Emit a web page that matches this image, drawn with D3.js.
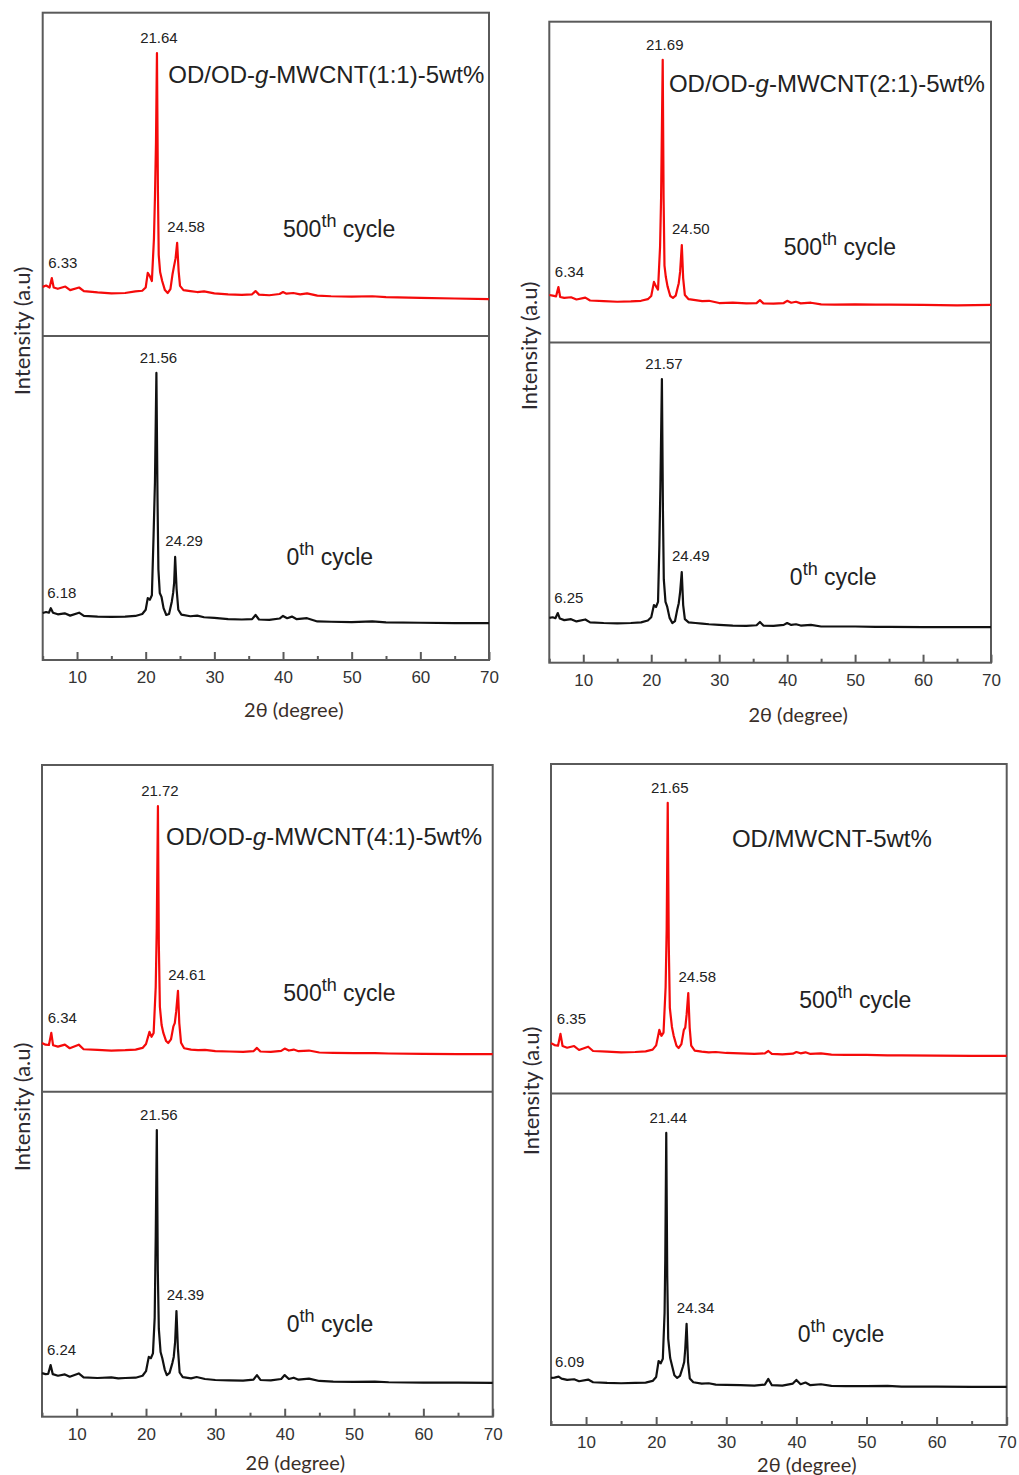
<!DOCTYPE html>
<html>
<head>
<meta charset="utf-8">
<script src="https://cdn.jsdelivr.net/npm/d3@7"></script>
<style>
  body { margin: 0; background: #fff; }
  svg { display: block; }
</style>
</head>
<body>
<div id="chart"></div>
<script>
// Sample names (one per panel)
const sampleNames = [
  "OD/OD-g-MWCNT(1:1)-5wt%",
  "OD/OD-g-MWCNT(2:1)-5wt%",
  "OD/OD-g-MWCNT(4:1)-5wt%",
  "OD/MWCNT-5wt%"
];
const cycles = ["500", "0"]; // top half, bottom half

// x axis ticks
const majorTicks = [10, 20, 30, 40, 50, 60, 70];
const minorTicks = [5, 15, 25, 35, 45, 55, 65];

// labelled peak positions (2theta)
const peaks1_500 = [6.33, 21.64, 24.58];
const peaks1_0   = [6.18, 21.56, 24.29];
const peaks2_500 = [6.34, 21.69, 24.50];
const peaks2_0   = [6.25, 21.57, 24.49];
const peaks3_500 = [6.34, 21.72, 24.61];
const peaks3_0   = [6.24, 21.56, 24.39];
const peaks4_500 = [6.35, 21.65, 24.58];
const peaks4_0   = [6.09, 21.44, 24.34];

// XRD patterns [2theta, intensity (a.u.)]
const xrd1_500 = [[5,15.2],[5.5,15.6],[6.0,15.0],[6.33,17.9],[6.6,15.0],[7.2,14.6],[8.3,15.3],[9.0,14.2],[10.3,15.0],[11,13.9],[13,13.5],[15,13.2],[17,13.3],[18.5,13.8],[19.5,14.0],[20.0,15.0],[20.3,19.5],[20.6,18.5],[20.9,17.0],[21.2,30],[21.35,43],[21.5,60],[21.64,87.5],[21.78,45],[21.9,25],[22.1,19.8],[22.4,17],[22.8,14.2],[23.2,13.3],[23.6,14.5],[23.9,19],[24.1,21.3],[24.35,24],[24.58,28.8],[24.8,20],[25.0,15.5],[25.5,14.2],[26.5,13.9],[27.5,13.6],[28.5,13.8],[30,13.2],[32,12.9],[34,12.7],[35.5,12.9],[36,13.9],[36.5,12.8],[38,12.6],[39.5,13],[40,13.6],[40.5,13.1],[41.5,13.3],[42.5,12.9],[43.5,13.2],[45,12.5],[47,12.3],[50,12.2],[53,12.3],[55,12],[60,11.8],[65,11.6],[70,11.4]];
const xrd1_0 = [[5,14.5],[5.5,14.8],[5.9,14.6],[6.18,16.0],[6.5,14.6],[7.2,14.1],[8.2,14.4],[9.0,13.7],[10.3,14.6],[11,13.6],[13,13.4],[15,13.3],[17,13.4],[18.5,13.6],[19.5,14.2],[20.0,15.5],[20.3,19.1],[20.6,18.6],[20.9,20],[21.15,38.6],[21.35,55],[21.56,88.6],[21.72,50],[21.85,28],[22.05,20.7],[22.3,19.5],[22.6,16],[23.0,13.9],[23.4,14.2],[23.8,18],[24.0,20.7],[24.15,24],[24.29,31.8],[24.5,22],[24.75,15.5],[25.2,14],[26.5,13.5],[27.5,13.7],[28.5,13.2],[30,13],[32,12.6],[34,12.5],[35.5,12.6],[36,13.9],[36.5,12.5],[38,12.4],[39.5,12.8],[40,13.6],[40.6,12.9],[41.3,13.4],[42,12.6],[43.5,12.9],[45,11.9],[47,11.8],[50,11.7],[53,11.9],[55,11.6],[60,11.5],[65,11.4],[70,11.4]];
const xrd2_500 = [[5,14.8],[5.5,14.6],[6.0,14.4],[6.34,17.3],[6.6,14.2],[7.2,13.9],[8.2,14.1],[9.0,13.4],[10.3,14.0],[11,13.1],[13,12.9],[15,12.7],[17,12.8],[18.5,13.0],[19.5,13.5],[20.0,14.5],[20.4,18.9],[20.7,17.5],[21.0,16.5],[21.3,29.8],[21.45,45],[21.69,88.1],[21.82,45],[21.95,24],[22.15,20.4],[22.4,17.5],[22.8,14.5],[23.2,13.9],[23.6,14.6],[23.9,17.2],[24.05,18.5],[24.25,22],[24.50,30.4],[24.7,20],[24.95,14.8],[25.5,13.5],[26.5,13.2],[27.5,12.9],[28.5,13],[30,12.3],[32,12.4],[34,12.2],[35.5,12.3],[36,13.2],[36.5,12.2],[38,12.1],[39.5,12.3],[40,13.0],[40.6,12.4],[41.3,12.7],[42,12.2],[43.5,12.4],[45,11.9],[47,11.8],[50,11.9],[53,11.8],[55,11.8],[60,11.7],[65,11.6],[70,11.7]];
const xrd2_0 = [[5,14.0],[5.5,14.2],[5.9,13.9],[6.25,15.5],[6.55,13.8],[7.2,13.3],[8.2,13.6],[9.0,12.9],[10.3,13.5],[11,12.6],[13,12.4],[15,12.3],[17,12.4],[18.5,12.6],[19.5,13.2],[20.0,14.2],[20.4,18.0],[20.7,17.4],[21.0,19],[21.2,36.8],[21.35,55],[21.57,88.6],[21.72,48],[21.85,26],[22.1,19.0],[22.35,17.5],[22.7,14],[23.1,12.4],[23.5,13],[23.85,16.8],[24.05,18.6],[24.25,22],[24.49,28.3],[24.7,18],[24.95,13.6],[25.5,12.6],[26.5,12.4],[27.5,12.2],[28.5,12.0],[30,11.8],[32,11.6],[34,11.5],[35.5,11.7],[36,12.7],[36.5,11.6],[38,11.5],[39.5,11.8],[40,12.4],[40.6,11.8],[41.3,12.0],[42,11.6],[43.5,11.8],[45,11.3],[47,11.3],[50,11.3],[53,11.2],[55,11.2],[60,11.1],[65,11.1],[70,11.1]];
const xrd3_500 = [[5,14.9],[5.5,14.4],[6.0,14.3],[6.34,18.0],[6.6,14.2],[7.3,13.8],[8.3,14.4],[9.0,13.3],[10.3,14.4],[11,13.0],[13,12.8],[15,12.6],[17,12.7],[18.5,12.9],[19.5,13.4],[20.0,14.6],[20.5,18.3],[20.8,16.8],[21.1,18],[21.4,32],[21.55,50],[21.72,87.4],[21.85,45],[22.0,26],[22.25,20.4],[22.5,18],[22.9,15.5],[23.2,14.9],[23.6,16],[23.95,20],[24.15,21],[24.35,24.5],[24.61,30.9],[24.8,21],[25.05,15],[25.5,13.3],[26.5,12.9],[27.5,12.7],[28.5,12.8],[30,12.4],[32,12.3],[34,12.2],[35.5,12.4],[36,13.4],[36.5,12.3],[38,12.2],[39.5,12.5],[40,13.2],[40.6,12.6],[41.3,12.9],[42,12.4],[43.5,12.6],[45,12.0],[47,11.9],[50,11.8],[53,11.8],[55,11.7],[60,11.6],[65,11.5],[70,11.5]];
const xrd3_0 = [[5,13.4],[5.5,13.1],[5.9,13.2],[6.24,15.9],[6.55,13.1],[7.3,12.6],[8.3,13.0],[9.0,12.3],[10.3,13.3],[11,12.1],[13,11.9],[15,12.1],[16,11.8],[17,11.9],[18.5,12.0],[19.5,12.6],[20.0,14.0],[20.4,18.4],[20.7,18.0],[21.0,19.5],[21.25,30.4],[21.4,55],[21.56,88.2],[21.7,45],[21.85,27],[22.1,19.9],[22.35,18],[22.7,14.5],[23.0,12.8],[23.4,13.5],[23.8,16.5],[24.0,18.4],[24.2,23],[24.39,32.5],[24.6,21],[24.85,13.6],[25.3,12.2],[26.5,11.8],[27.3,12.2],[28.5,11.6],[30,11.3],[32,11.2],[34,11.1],[35.5,11.4],[36,12.8],[36.5,11.3],[38,11.2],[39.5,11.6],[40,12.8],[40.6,11.6],[41.3,12.0],[42,11.4],[43.5,11.7],[45,11.0],[47,10.8],[50,10.7],[53,10.8],[55,10.6],[60,10.5],[65,10.5],[70,10.4]];
const xrd4_500 = [[5,15.3],[5.5,14.7],[6.0,14.5],[6.35,18.1],[6.65,14.4],[7.3,13.9],[8.3,14.4],[9.0,13.2],[10.3,14.2],[11,12.9],[13,12.7],[15,12.5],[17,12.6],[18.5,12.8],[19.5,13.3],[20.0,14.6],[20.45,19.3],[20.75,17.5],[21.05,18.5],[21.35,32.3],[21.5,50],[21.65,88.2],[21.8,45],[21.95,26],[22.25,20.2],[22.5,17.5],[22.9,14.5],[23.2,13.8],[23.6,15],[23.95,19.3],[24.15,20],[24.35,24],[24.58,30.5],[24.78,20],[25.0,14.5],[25.5,13.0],[26.5,12.7],[27.5,12.5],[28.5,12.6],[30,12.3],[32,12.2],[34,12.0],[35.5,12.2],[36,12.9],[36.5,12.0],[38,11.9],[39.5,12.1],[40,12.6],[40.6,12.2],[41.3,12.5],[42,12.0],[43.5,12.2],[45,11.8],[47,11.7],[50,11.7],[53,11.6],[55,11.6],[60,11.5],[65,11.4],[70,11.4]];
const xrd4_0 = [[5,14.2],[5.5,14.3],[6.09,14.6],[6.5,14.0],[7.3,13.6],[8.3,13.8],[9.0,13.2],[10.3,13.7],[11,12.9],[13,12.7],[15,12.6],[17,12.7],[18.5,12.8],[19.5,13.3],[20.0,14.5],[20.35,19.3],[20.65,18.6],[20.95,20],[21.2,33.8],[21.3,50],[21.44,88.1],[21.58,45],[21.72,26],[22.0,20.2],[22.25,18],[22.6,15],[23.0,14.2],[23.4,14.8],[23.8,17.5],[24.0,19],[24.15,23],[24.34,30.5],[24.55,19],[24.8,14],[25.3,12.9],[26.5,12.5],[27.5,12.6],[28.5,12.2],[30,12.1],[32,12.0],[34,11.9],[35.5,12.2],[36,13.9],[36.5,12.0],[38,11.9],[39.5,12.5],[40,13.6],[40.6,12.3],[41.3,12.8],[42,12.0],[43.5,12.3],[45,11.8],[47,11.7],[50,11.7],[53,11.8],[55,11.6],[60,11.6],[65,11.5],[70,11.5]];

// Panel frames and text placement (pixels / data coords)
const layout = [
  {left: 42.7, right: 489, top: 12.7, mid: 336, bottom: 660, ylabY: 331, xtitleDy: 50,
   title: [23.3, 78.3], cyc500: [40, 30.6], cyc0: [40.5, 29.3]},
  {left: 549.3, right: 991, top: 21.7, mid: 342.5, bottom: 662.7, ylabY: 346, xtitleDy: 52,
   title: [22.6, 78.1], cyc500: [39.5, 27.3], cyc0: [40.4, 24.3]},
  {left: 42, right: 492.7, top: 765, mid: 1091.7, bottom: 1416.7, ylabY: 1107, xtitleDy: 46,
   title: [22.9, 75.5], cyc500: [39.8, 27.8], cyc0: [40.3, 26]},
  {left: 551, right: 1006.7, top: 764, mid: 1093.5, bottom: 1425, ylabY: 1091, xtitleDy: 40,
   title: [30.8, 74.8], cyc500: [40.4, 26], cyc0: [40.2, 25]}
];

const panels = [
  {name: sampleNames[0], top: xrd1_500, bot: xrd1_0, pTop: peaks1_500, pBot: peaks1_0},
  {name: sampleNames[1], top: xrd2_500, bot: xrd2_0, pTop: peaks2_500, pBot: peaks2_0},
  {name: sampleNames[2], top: xrd3_500, bot: xrd3_0, pTop: peaks3_500, pBot: peaks3_0},
  {name: sampleNames[3], top: xrd4_500, bot: xrd4_0, pTop: peaks4_500, pBot: peaks4_0}
];

const width = 1019, height = 1475;
const frameColor = '#5a5a5a';
const labelFont = 'Lato, "Open Sans", "DejaVu Sans", sans-serif';
const arialFont = '"Liberation Sans", Arial, sans-serif';

const svg = d3.select('#chart').append('svg')
  .attr('width', width)
  .attr('height', height)
  .style('background', '#fff');

// offsets of the three peak labels (low-angle, main, second)
const peakLabelDx = [11, 2, 9];
const peakLabelDy = [15, 15, 16];

panels.forEach(function(p, i) {
  const L = layout[i];
  const g = svg.append('g').attr('class', 'panel-' + i);

  const x = d3.scaleLinear().domain([5, 70]).range([L.left, L.right]);
  const yTop = d3.scaleLinear().domain([0, 100]).range([L.mid, L.top]);
  const yBot = d3.scaleLinear().domain([0, 100]).range([L.bottom, L.mid]);

  // minor ticks
  g.append('g')
    .attr('transform', 'translate(0,' + L.bottom + ')')
    .call(d3.axisBottom(x).tickValues(minorTicks).tickSize(-4).tickFormat(''))
    .call(function(a) { a.select('.domain').remove(); })
    .selectAll('line').attr('stroke', frameColor).attr('stroke-width', 2);

  // major ticks + labels
  const ax = g.append('g')
    .attr('transform', 'translate(0,' + L.bottom + ')')
    .call(d3.axisBottom(x).tickValues(majorTicks).tickSize(-8).tickPadding(11));
  ax.select('.domain').remove();
  ax.selectAll('line').attr('stroke', frameColor).attr('stroke-width', 2);
  ax.selectAll('text')
    .attr('fill', '#333')
    .style('font-family', arialFont)
    .style('font-size', '17px');

  // frame + divider
  g.append('rect')
    .attr('x', L.left).attr('y', L.top)
    .attr('width', L.right - L.left).attr('height', L.bottom - L.top)
    .attr('fill', 'none').attr('stroke', frameColor).attr('stroke-width', 2);
  g.append('line')
    .attr('x1', L.left).attr('x2', L.right)
    .attr('y1', L.mid).attr('y2', L.mid)
    .attr('stroke', frameColor).attr('stroke-width', 2);

  // patterns
  const halves = [
    {data: p.top, peaks: p.pTop, y: yTop, color: '#f50a0a', cyc: cycles[0], cycPos: L.cyc500},
    {data: p.bot, peaks: p.pBot, y: yBot, color: '#111111', cyc: cycles[1], cycPos: L.cyc0}
  ];

  halves.forEach(function(h) {
    const line = d3.line()
      .x(function(d) { return x(d[0]); })
      .y(function(d) { return h.y(d[1]); });

    g.append('path')
      .datum(h.data)
      .attr('d', line)
      .attr('fill', 'none')
      .attr('stroke', h.color)
      .attr('stroke-width', 2.2)
      .attr('stroke-linejoin', 'round');

    // peak labels
    g.selectAll(null)
      .data(h.peaks)
      .enter()
      .append('text')
      .attr('x', function(d, k) { return x(d) + peakLabelDx[k]; })
      .attr('y', function(d, k) {
        const pt = h.data.find(function(e) { return Math.abs(e[0] - d) < 1e-6; });
        return h.y(pt[1]) - peakLabelDy[k];
      })
      .attr('dy', '0.35em')
      .attr('text-anchor', 'middle')
      .attr('fill', '#222')
      .style('font-family', arialFont)
      .style('font-size', '15px')
      .text(d3.format('.2f'));

    // cycle label
    const ct = g.append('text')
      .attr('x', x(h.cycPos[0]))
      .attr('y', h.y(h.cycPos[1]))
      .attr('fill', '#222')
      .style('font-family', arialFont)
      .style('font-size', '23px');
    ct.append('tspan').text(h.cyc);
    ct.append('tspan').attr('dy', -10).style('font-size', '18px').text('th');
    ct.append('tspan').attr('dy', 10).text(' cycle');
  });

  // sample title, with italic "g"
  const t = g.append('text')
    .attr('x', x(L.title[0]))
    .attr('y', yTop(L.title[1]))
    .attr('fill', '#222')
    .style('font-family', arialFont)
    .style('font-size', '24px');
  const parts = p.name.split('-g-');
  if (parts.length === 2) {
    t.append('tspan').text(parts[0] + '-');
    t.append('tspan').style('font-style', 'italic').text('g');
    t.append('tspan').text('-' + parts[1]);
  } else {
    t.text(p.name);
  }

  // axis titles
  g.append('text')
    .attr('x', (L.left + L.right) / 2 + 28)
    .attr('y', L.bottom + L.xtitleDy)
    .attr('dy', '0.35em')
    .attr('text-anchor', 'middle')
    .attr('fill', '#3a2e28')
    .style('font-family', labelFont)
    .style('font-size', '20px')
    .text('2θ (degree)');

  g.append('text')
    .attr('transform', 'translate(' + (L.left - 20) + ',' + L.ylabY + ') rotate(-90)')
    .attr('dy', '0.35em')
    .attr('text-anchor', 'middle')
    .attr('fill', '#2e2a30')
    .style('font-family', labelFont)
    .style('font-size', '22px')
    .text('Intensity (a.u)');
});
</script>
</body>
</html>
